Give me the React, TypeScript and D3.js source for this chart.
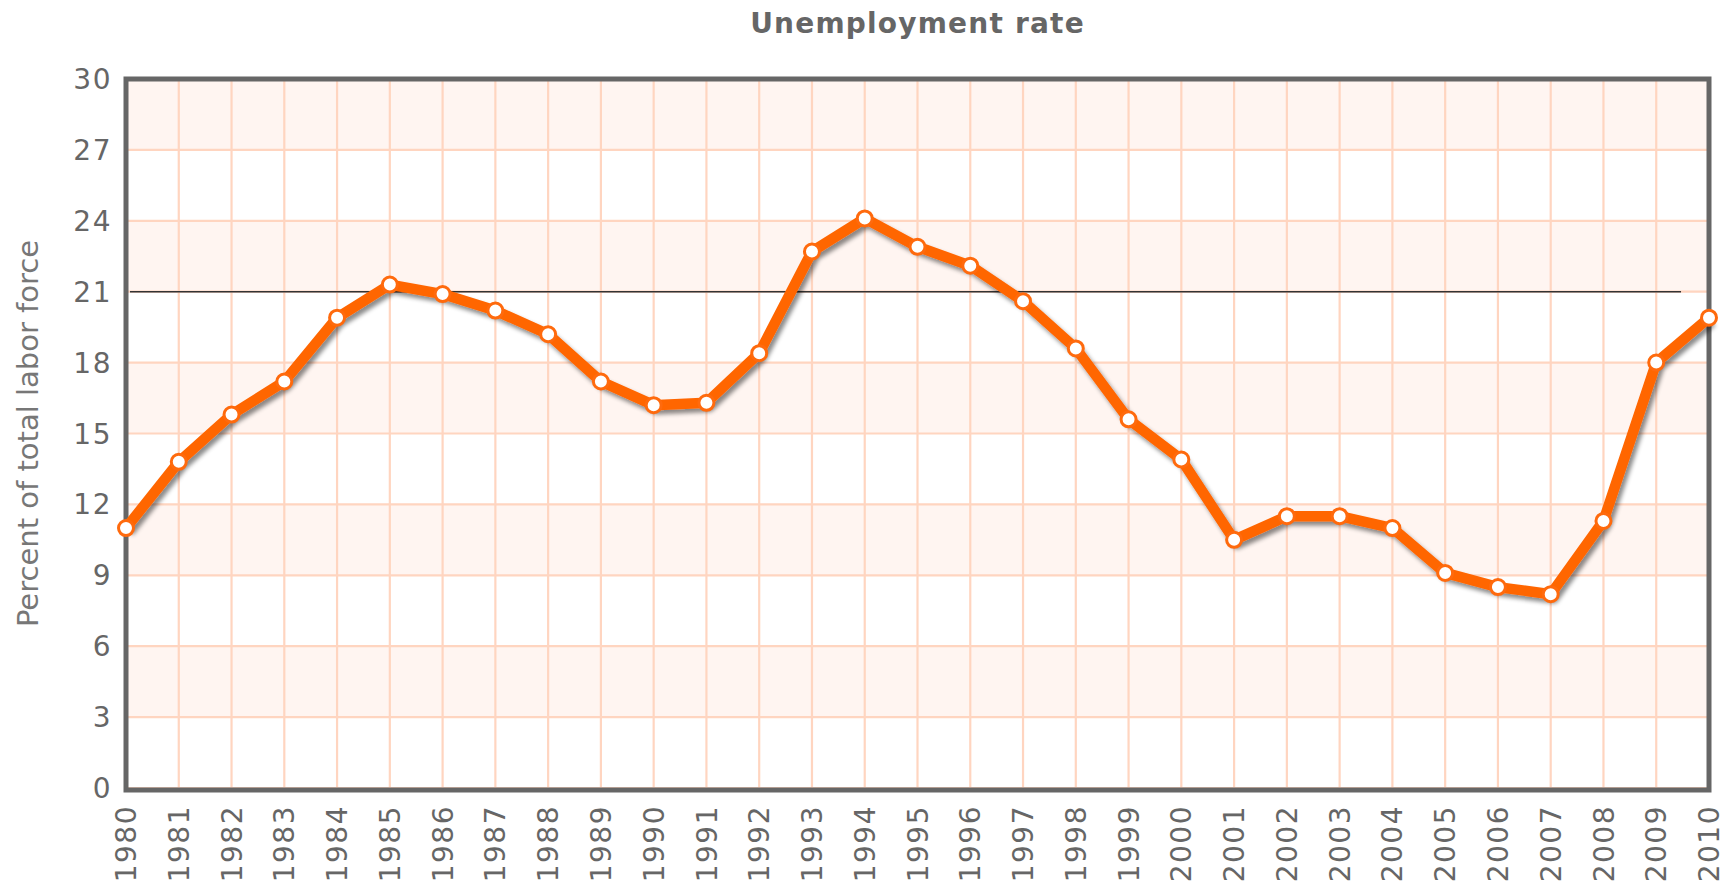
import * as d3 from 'd3'

const years = [
  1980, 1981, 1982, 1983, 1984, 1985, 1986, 1987, 1988, 1989, 1990,
  1991, 1992, 1993, 1994, 1995, 1996, 1997, 1998, 1999, 2000,
  2001, 2002, 2003, 2004, 2005, 2006, 2007, 2008, 2009, 2010,
]
const rates = [
  11.0, 13.8, 15.8, 17.2, 19.9, 21.3, 20.9, 20.2, 19.2, 17.2, 16.2,
  16.3, 18.4, 22.7, 24.1, 22.9, 22.1, 20.6, 18.6, 15.6, 13.9,
  10.5, 11.5, 11.5, 11.0, 9.1, 8.5, 8.2, 11.3, 18.0, 19.9,
]
const yTicks = [0, 3, 6, 9, 12, 15, 18, 21, 24, 27, 30]
const refValue = 21
const refEndYear = 2009.47

const W = 1731
const H = 881
const margin = { top: 79, right: 22, bottom: 93, left: 126 }

export default function App() {
  const x = d3.scaleLinear().domain([1980, 2010]).range([margin.left, W - margin.right])
  const y = d3.scaleLinear().domain([0, 30]).range([H - margin.bottom, margin.top])
  const x0 = x(1980)
  const x1 = x(2010)
  const yTop = y(30)
  const yBot = y(0)

  const pts = years.map((yr, i) => [yr, rates[i]] as [number, number])
  const line = d3.line<[number, number]>().x(d => x(d[0])).y(d => y(d[1]))

  const tickFont = 'DejaVu Sans, Verdana, sans-serif'

  return (
    <svg
      width={W}
      height={H}
      style={{ position: 'absolute', left: 0, top: 0, background: '#fff' }}
    >
      <defs>
        <filter id="shadow" x="-10%" y="-10%" width="120%" height="130%">
          <feDropShadow dx="3" dy="4" stdDeviation="2.2" floodColor="#000" floodOpacity="0.45" />
        </filter>
      </defs>

      <text
        x={(x0 + x1) / 2}
        y={33}
        textAnchor="middle"
        fontFamily={tickFont}
        fontWeight="bold"
        fontSize={28}
        letterSpacing={1.2}
        fill="#666"
      >
        Unemployment rate
      </text>

      {/* bands */}
      {yTicks.slice(0, -1).map(t =>
        (t / 3) % 2 === 1 ? (
          <rect key={'b' + t} x={x0} y={y(t + 3)} width={x1 - x0} height={y(t) - y(t + 3)} fill="#fff5f1" />
        ) : null
      )}

      {/* grid */}
      {yTicks.map(t => (
        <line key={'gy' + t} x1={x0} x2={x1} y1={y(t)} y2={y(t)} stroke="#ffd5c0" strokeWidth={2.2} />
      ))}
      {years.map(yr => (
        <line key={'gx' + yr} x1={x(yr)} x2={x(yr)} y1={yTop} y2={yBot} stroke="#ffd5c0" strokeWidth={2.2} />
      ))}

      {/* frame */}
      <rect
        x={x0}
        y={yTop}
        width={x1 - x0}
        height={yBot - yTop + 2}
        fill="none"
        stroke="#666"
        strokeWidth={5}
      />

      {/* y ticks */}
      {yTicks.map(t => (
        <text
          key={'ty' + t}
          x={112}
          y={y(t)}
          dy="0.36em"
          textAnchor="end"
          fontFamily={tickFont}
          fontSize={28}
          letterSpacing={1.5}
          fill="#666"
        >
          {t}
        </text>
      ))}

      {/* x ticks */}
      {years.map(yr => (
        <text
          key={'tx' + yr}
          transform={`translate(${x(yr)},${805}) rotate(-90)`}
          dy="0.36em"
          textAnchor="end"
          fontFamily={tickFont}
          fontSize={28}
          letterSpacing={1.5}
          fill="#666"
        >
          {yr}
        </text>
      ))}

      <text
        transform={`translate(28,${(yTop + yBot) / 2}) rotate(-90)`}
        dy="0.36em"
        textAnchor="middle"
        fontFamily={tickFont}
        fontSize={29}
        fill="#777"
      >
        Percent of total labor force
      </text>

      {/* reference line */}
      <line x1={x0 + 4} x2={x(refEndYear)} y1={y(refValue)} y2={y(refValue)} stroke="#333" strokeWidth={1.5} />

      {/* series */}
      <g filter="url(#shadow)">
        <path d={line(pts) ?? ''} fill="none" stroke="#ff6600" strokeWidth={10.5} strokeLinejoin="round" />
      </g>
      {pts.map(p => (
        <circle key={'m' + p[0]} cx={x(p[0])} cy={y(p[1])} r={7.5} fill="#fff" stroke="#ff6a0d" strokeWidth={3} />
      ))}
    </svg>
  )
}
